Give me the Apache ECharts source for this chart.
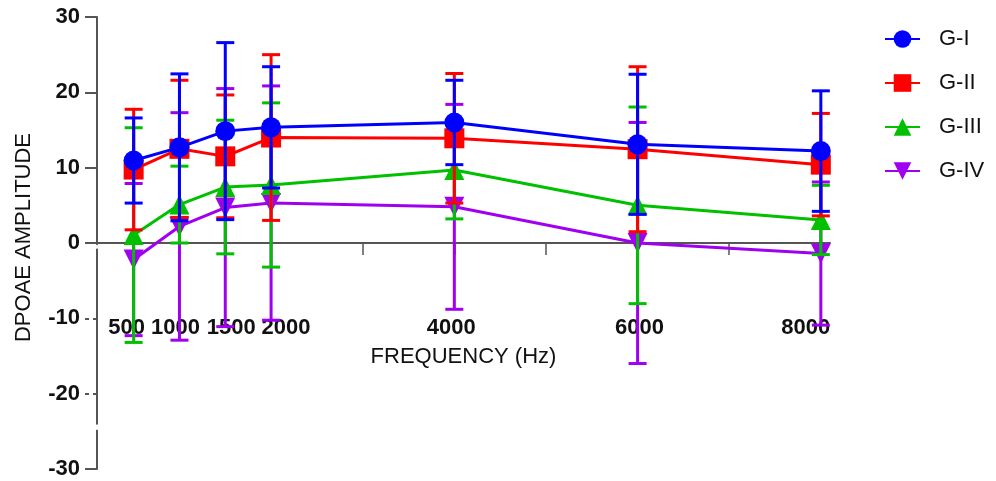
<!DOCTYPE html>
<html>
<head>
<meta charset="utf-8">
<title>DPOAE amplitude by frequency</title>
<script src="https://cdn.jsdelivr.net/npm/echarts@6/dist/echarts.min.js"></script>
<style>
  html, body { margin: 0; padding: 0; background: #fff; }
  #chart { width: 996px; height: 481px; }
</style>
</head>
<body>
<div id="chart"></div>
<script>
// Test frequencies (Hz)
const frequencies = [500, 1000, 1500, 2000, 4000, 6000, 8000];

// Group means (DPOAE amplitude) and standard deviations
const gIMean   = [10.95, 12.7, 14.85, 15.35, 16.0, 13.1, 12.2];
const gISd     = [5.65, 9.75, 11.75, 8.05, 5.6, 9.3, 8.0];
const gIIMean  = [9.75, 12.5, 11.5, 14.0, 13.9, 12.45, 10.4];
const gIISd    = [8.0, 9.1, 8.15, 11.0, 8.6, 10.95, 6.8];
const gIIIMean = [1.05, 5.1, 7.43, 7.7, 9.7, 5.0, 3.06];
const gIIISd   = [14.25, 5.1, 8.87, 10.9, 6.5, 13.05, 4.6];
const gIVMean  = [-2.2, 2.2, 4.7, 5.3, 4.8, 0.0, -1.4];
const gIVSd    = [10.1, 15.1, 15.8, 15.55, 13.6, 16.0, 9.5];

// Axis ticks
const xLabelValues = [500, 1000, 1500, 2000, 4000, 6000, 8000];
const xTickValues  = [500, 1000, 1500, 2000, 3000, 4000, 5000, 6000, 7000, 8000];
const yTickLabels  = [-30, -20, -10, 0, 10, 20, 30];
const ySolidTicks  = [-30, 0, 10, 20, 30];
const yDashedTicks = [-20, -10];

// Horizontal nudges for crowded frequency labels (px)
const labelNudge = { 500: -7, 1000: -4, 1500: 6, 2000: 15, 4000: -3, 6000: 2, 8000: -15 };

const groups = [
  { name: 'G-I',   mean: gIMean,   sd: gISd,   color: '#0000FF', symbol: 'circle',   rotate: 0 },
  { name: 'G-II',  mean: gIIMean,  sd: gIISd,  color: '#FF0000', symbol: 'rect',     rotate: 0 },
  { name: 'G-III', mean: gIIIMean, sd: gIIISd, color: '#00C000', symbol: 'triangle', rotate: 0 },
  { name: 'G-IV',  mean: gIVMean,  sd: gIVSd,  color: '#A000F0', symbol: 'triangle', rotate: 180 }
];

const FONT = '"Liberation Sans", Arial, sans-serif';
const AXIS_COLOR = '#555';

// Plot area and value range
const W = 996, H = 481;
const GRID = { left: 97, right: 166, top: 17, bottom: 12 };
const Y_MIN = -30, Y_MAX = 30;
// The frequency axis sits on the zero line of the amplitude axis
const plotH = H - GRID.top - GRID.bottom;
const zeroFromBottom = plotH * (0 - Y_MIN) / (Y_MAX - Y_MIN);

const rich = {};
xLabelValues.forEach(v => {
  const d = labelNudge[v] || 0;
  rich['f' + v] = {
    fontFamily: FONT, fontSize: 22, fontWeight: 'bold', color: '#111',
    padding: d >= 0 ? [0, 0, 0, 2 * d] : [0, -2 * d, 0, 0]
  };
});

function errorBarSeries(g, z) {
  return {
    name: g.name + ' SD',
    type: 'custom',
    z: z,
    silent: true,
    data: frequencies.map((f, i) => [f, g.mean[i] - g.sd[i], g.mean[i] + g.sd[i]]),
    encode: { x: 0, y: [1, 2] },
    renderItem: function (params, api) {
      const x = api.value(0);
      const top = api.coord([x, api.value(2)]);
      const bot = api.coord([x, api.value(1)]);
      const half = 9;
      const st = { stroke: g.color, lineWidth: 3 };
      return {
        type: 'group',
        children: [
          { type: 'line', shape: { x1: top[0], y1: top[1], x2: bot[0], y2: bot[1] }, style: st },
          { type: 'line', shape: { x1: top[0] - half, y1: top[1], x2: top[0] + half, y2: top[1] }, style: st },
          { type: 'line', shape: { x1: bot[0] - half, y1: bot[1], x2: bot[0] + half, y2: bot[1] }, style: st }
        ]
      };
    }
  };
}

function meanSeries(g, z) {
  return {
    name: g.name,
    type: 'line',
    z: z,
    data: frequencies.map((f, i) => [f, g.mean[i]]),
    symbol: g.symbol,
    symbolSize: 20,
    symbolRotate: g.rotate,
    showAllSymbol: true,
    color: g.color,
    lineStyle: { color: g.color, width: 3 },
    itemStyle: { color: g.color },
    emphasis: { disabled: true },
    animation: false
  };
}

// Later groups are drawn underneath earlier ones
const series = [];
groups.slice().reverse().forEach((g, k) => {
  series.push(errorBarSeries(g, 2 + k * 2));
  series.push(meanSeries(g, 3 + k * 2));
});

const chart = echarts.init(document.getElementById('chart'), null, { renderer: 'canvas', width: W, height: H });

chart.setOption({
  backgroundColor: '#fff',
  animation: false,
  grid: Object.assign({ outerBoundsMode: 'none' }, GRID),
  legend: {
    data: groups.map(g => g.name),
    orient: 'vertical',
    left: 884,
    top: 28,
    padding: 0,
    itemWidth: 35,
    itemHeight: 22,
    itemGap: 22,
    selectedMode: false,
    textStyle: { fontFamily: FONT, fontSize: 22, color: '#111', padding: [0, 0, 0, 14] }
  },
  xAxis: {
    type: 'value',
    position: 'bottom',
    offset: -zeroFromBottom,
    min: 100,
    max: 8100,
    name: 'FREQUENCY (Hz)',
    nameLocation: 'middle',
    nameGap: 103,
    nameTextStyle: { fontFamily: FONT, fontSize: 22, color: '#111' },
    axisLine: { onZero: false, lineStyle: { color: AXIS_COLOR, width: 2 } },
    axisTick: { show: true, length: 12, customValues: xTickValues, lineStyle: { color: AXIS_COLOR, width: 1.5 } },
    axisLabel: {
      show: true,
      customValues: xLabelValues,
      hideOverlap: false,
      margin: 74,
      fontFamily: FONT, fontSize: 22, fontWeight: 'bold', color: '#111',
      formatter: v => '{f' + v + '|' + v + '}',
      rich: rich
    },
    splitLine: { show: false }
  },
  yAxis: [{
    type: 'value',
    min: Y_MIN,
    max: Y_MAX,
    interval: 10,
    name: 'DPOAE AMPLITUDE',
    nameLocation: 'middle',
    nameGap: 62,
    nameTextStyle: { fontFamily: FONT, fontSize: 22, color: '#111', padding: [0, 0, 0, 11] },
    axisLine: { show: true, lineStyle: { color: AXIS_COLOR, width: 2 } },
    axisTick: { show: true, length: 12, customValues: ySolidTicks, lineStyle: { color: AXIS_COLOR, width: 2 } },
    axisLabel: {
      customValues: yTickLabels,
      margin: 17,
      fontFamily: FONT, fontSize: 22, fontWeight: 'bold', color: '#111'
    },
    splitLine: { show: false }
  }, {
    // dashed ticks for the negative decades
    type: 'value',
    position: 'left',
    min: Y_MIN,
    max: Y_MAX,
    interval: 10,
    axisLine: { show: false },
    axisTick: { show: true, length: 12, customValues: yDashedTicks, lineStyle: { color: AXIS_COLOR, width: 2, type: [4, 4] } },
    axisLabel: { show: false },
    splitLine: { show: false }
  }],
  series: series
});

// Gaps in the vertical axis line: just below zero and between -20 and -30
const gaps = [[-0.25, -0.75], [-24.1, -24.8]];
chart.setOption({
  graphic: gaps.map(([a, b]) => {
    const p1 = chart.convertToPixel({ gridIndex: 0 }, [100, a]);
    const p2 = chart.convertToPixel({ gridIndex: 0 }, [100, b]);
    return {
      type: 'rect',
      z: 100,
      shape: { x: p1[0] - 4, y: p1[1], width: 8, height: p2[1] - p1[1] },
      style: { fill: '#fff' }
    };
  })
});
</script>
</body>
</html>
